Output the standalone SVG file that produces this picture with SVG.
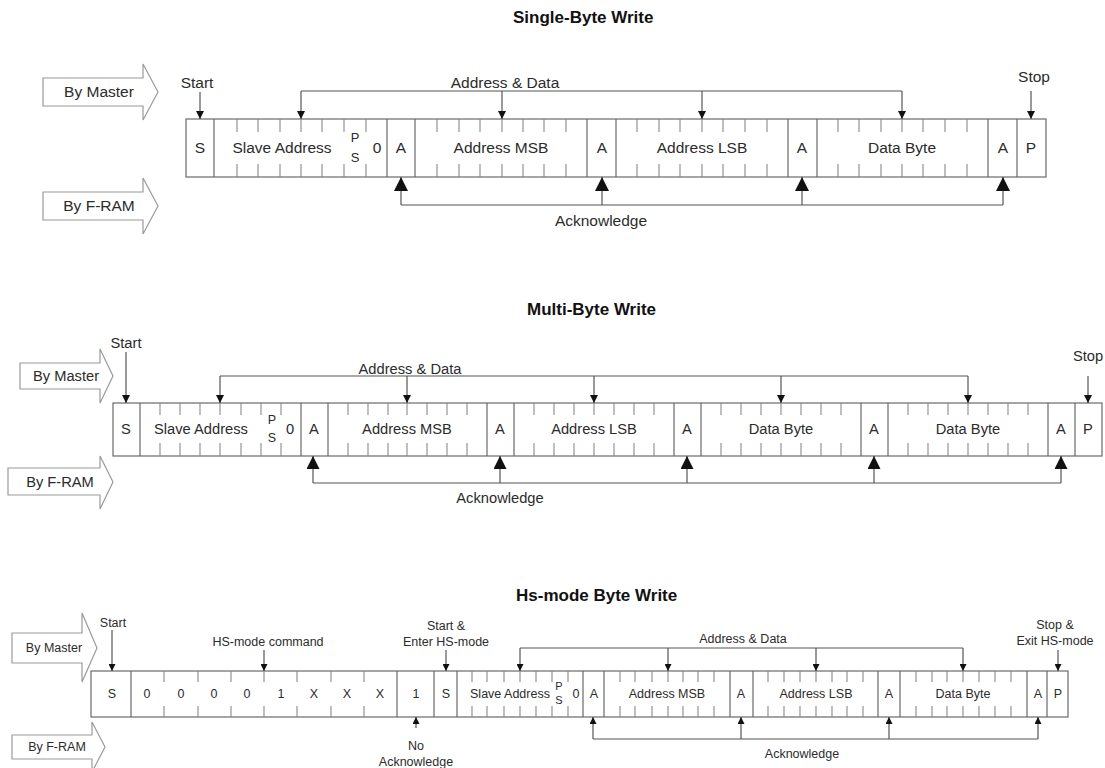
<svg xmlns="http://www.w3.org/2000/svg" width="1105" height="768" viewBox="0 0 1105 768">
<defs>
<style>
text{font-family:"Liberation Sans",Arial,sans-serif;fill:#2b2b2b;text-anchor:middle}
.t{font-weight:bold;font-size:17px;text-anchor:start;fill:#111}
.f1{font-size:15.5px}.f2{font-size:14.7px}.f3{font-size:12.5px}
.ps1{font-size:13px}.ps2{font-size:12.5px}.ps3{font-size:11px}
.big{fill:#fff;stroke:#9a9a9a;stroke-width:1.2}
.frm{fill:#fff;stroke:#6a6a6a;stroke-width:1.2}
.dv{stroke:#6a6a6a;stroke-width:1.2;fill:none}
.tk{stroke:#8a8a8a;stroke-width:1.1;fill:none}
.cn{stroke:#555;stroke-width:1.2;fill:none}
</style>
<marker id="d1" viewBox="0 0 10 10" refX="10" refY="5" markerWidth="9" markerHeight="8" markerUnits="userSpaceOnUse" orient="auto"><path d="M0,0L10,5L0,10z" fill="#111"/></marker>
<marker id="u1" viewBox="0 0 10 10" refX="10" refY="5" markerWidth="14" markerHeight="14" markerUnits="userSpaceOnUse" orient="auto"><path d="M0,0L10,5L0,10z" fill="#111"/></marker>
<marker id="d2" viewBox="0 0 10 10" refX="10" refY="5" markerWidth="8" markerHeight="8" markerUnits="userSpaceOnUse" orient="auto"><path d="M0,0L10,5L0,10z" fill="#111"/></marker>
<marker id="u2" viewBox="0 0 10 10" refX="10" refY="5" markerWidth="13" markerHeight="13" markerUnits="userSpaceOnUse" orient="auto"><path d="M0,0L10,5L0,10z" fill="#111"/></marker>
<marker id="d3" viewBox="0 0 10 10" refX="10" refY="5" markerWidth="7" markerHeight="7" markerUnits="userSpaceOnUse" orient="auto"><path d="M0,0L10,5L0,10z" fill="#111"/></marker>
<marker id="u3" viewBox="0 0 10 10" refX="10" refY="5" markerWidth="8" markerHeight="7" markerUnits="userSpaceOnUse" orient="auto"><path d="M0,0L10,5L0,10z" fill="#111"/></marker>
</defs>
<rect width="1105" height="768" fill="#fff"/>

<!-- ================= Section 1 ================= -->
<text class="t" x="513" y="23">Single-Byte Write</text>
<g id="s1-by-master"><polygon class="big" points="43,78 143,78 143,64 158,92 143,120 143,106 43,106"/><text class="f1" x="99" y="97">By Master</text></g>
<g id="s1-by-fram"><polygon class="big" points="43,192 143,192 143,178 158,206 143,234 143,220 43,220"/><text class="f1" x="99" y="211">By F-RAM</text></g>
<g id="s1-frame">
<rect class="frm" x="186" y="119" width="860" height="58"/>
<path class="dv" d="M214,119V177M387,119V177M415,119V177M587,119V177M616,119V177M788,119V177M817,119V177M988,119V177M1017,119V177"/>
<path class="tk" d="M237,119v13M237,164v13M258,119v13M258,164v13M280,119v13M280,164v13M301,119v13M301,164v13M322,119v13M322,164v13M344,119v13M344,164v13M366,119v13M366,164v13
M437,119v13M437,164v13M459,119v13M459,164v13M480,119v13M480,164v13M502,119v13M502,164v13M523,119v13M523,164v13M544,119v13M544,164v13M566,119v13M566,164v13
M637,119v13M637,164v13M659,119v13M659,164v13M680,119v13M680,164v13M702,119v13M702,164v13M723,119v13M723,164v13M745,119v13M745,164v13M767,119v13M767,164v13
M838,119v13M838,164v13M859,119v13M859,164v13M881,119v13M881,164v13M902,119v13M902,164v13M923,119v13M923,164v13M945,119v13M945,164v13M967,119v13M967,164v13"/>
<text class="f1" x="200" y="153">S</text>
<text class="f1" x="282" y="153">Slave Address</text>
<text class="ps1" x="355" y="142">P</text><text class="ps1" x="355" y="162">S</text>
<text class="f1" x="377" y="153">0</text>
<text class="f1" x="401" y="153">A</text>
<text class="f1" x="501" y="153">Address MSB</text>
<text class="f1" x="602" y="153">A</text>
<text class="f1" x="702" y="153">Address LSB</text>
<text class="f1" x="802" y="153">A</text>
<text class="f1" x="902" y="153">Data Byte</text>
<text class="f1" x="1003" y="153">A</text>
<text class="f1" x="1031" y="153">P</text>
</g>
<g id="s1-connectors">
<text class="f1" x="197" y="88">Start</text>
<line class="cn" x1="200" y1="92" x2="200" y2="119" marker-end="url(#d1)"/>
<text class="f1" x="1034" y="82">Stop</text>
<line class="cn" x1="1031" y1="91" x2="1031" y2="119" marker-end="url(#d1)"/>
<text class="f1" x="505" y="88">Address &amp; Data</text>
<path class="cn" d="M301,91H902"/>
<line class="cn" x1="301" y1="91" x2="301" y2="119" marker-end="url(#d1)"/>
<line class="cn" x1="502" y1="91" x2="502" y2="119" marker-end="url(#d1)"/>
<line class="cn" x1="702" y1="91" x2="702" y2="119" marker-end="url(#d1)"/>
<line class="cn" x1="902" y1="91" x2="902" y2="119" marker-end="url(#d1)"/>
<path class="cn" d="M401,205H1003"/>
<line class="cn" x1="401" y1="205" x2="401" y2="177" marker-end="url(#u1)"/>
<line class="cn" x1="602" y1="205" x2="602" y2="177" marker-end="url(#u1)"/>
<line class="cn" x1="802" y1="205" x2="802" y2="177" marker-end="url(#u1)"/>
<line class="cn" x1="1003" y1="205" x2="1003" y2="177" marker-end="url(#u1)"/>
<text class="f1" x="601" y="226">Acknowledge</text>
</g>

<!-- ================= Section 2 ================= -->
<text class="t" x="527" y="315">Multi-Byte Write</text>
<g id="s2-by-master"><polygon class="big" points="20,363 100,363 100,349 113,376 100,403 100,389 20,389"/><text class="f2" x="66" y="381">By Master</text></g>
<g id="s2-by-fram"><polygon class="big" points="8,468 100,468 100,456 113,482 100,509 100,495 8,495"/><text class="f2" x="60" y="487">By F-RAM</text></g>
<g id="s2-frame">
<rect class="frm" x="113" y="403" width="989" height="53"/>
<path class="dv" d="M140,403V456M301,403V456M328,403V456M487,403V456M514,403V456M674,403V456M701,403V456M861,403V456M888,403V456M1048,403V456M1075,403V456"/>
<path class="tk" d="M160,403v12M160,443v13M180,403v12M180,443v13M200,403v12M200,443v13M220,403v12M220,443v13M241,403v12M241,443v13M261,403v12M261,443v13M281,403v12M281,443v13
M348,403v12M348,443v13M368,403v12M368,443v13M388,403v12M388,443v13M407,403v12M407,443v13M427,403v12M427,443v13M447,403v12M447,443v13M467,403v12M467,443v13
M534,403v12M534,443v13M554,403v12M554,443v13M574,403v12M574,443v13M594,403v12M594,443v13M614,403v12M614,443v13M634,403v12M634,443v13M654,403v12M654,443v13
M721,403v12M721,443v13M741,403v12M741,443v13M761,403v12M761,443v13M781,403v12M781,443v13M801,403v12M801,443v13M821,403v12M821,443v13M841,403v12M841,443v13
M908,403v12M908,443v13M928,403v12M928,443v13M948,403v12M948,443v13M968,403v12M968,443v13M988,403v12M988,443v13M1008,403v12M1008,443v13M1028,403v12M1028,443v13"/>
<text class="f2" x="126" y="434">S</text>
<text class="f2" x="201" y="434">Slave Address</text>
<text class="ps2" x="272" y="424">P</text><text class="ps2" x="272" y="442">S</text>
<text class="f2" x="290" y="434">0</text>
<text class="f2" x="314" y="434">A</text>
<text class="f2" x="407" y="434">Address MSB</text>
<text class="f2" x="500" y="434">A</text>
<text class="f2" x="594" y="434">Address LSB</text>
<text class="f2" x="687" y="434">A</text>
<text class="f2" x="781" y="434">Data Byte</text>
<text class="f2" x="874" y="434">A</text>
<text class="f2" x="968" y="434">Data Byte</text>
<text class="f2" x="1061" y="434">A</text>
<text class="f2" x="1088" y="434">P</text>
</g>
<g id="s2-connectors">
<text class="f2" x="126" y="348">Start</text>
<line class="cn" x1="126" y1="352" x2="126" y2="403" marker-end="url(#d2)"/>
<text class="f2" x="1088" y="361">Stop</text>
<line class="cn" x1="1088" y1="376" x2="1088" y2="403" marker-end="url(#d2)"/>
<text class="f2" x="410" y="374">Address &amp; Data</text>
<path class="cn" d="M220,376H968"/>
<line class="cn" x1="220" y1="376" x2="220" y2="403" marker-end="url(#d2)"/>
<line class="cn" x1="407" y1="376" x2="407" y2="403" marker-end="url(#d2)"/>
<line class="cn" x1="594" y1="376" x2="594" y2="403" marker-end="url(#d2)"/>
<line class="cn" x1="781" y1="376" x2="781" y2="403" marker-end="url(#d2)"/>
<line class="cn" x1="968" y1="376" x2="968" y2="403" marker-end="url(#d2)"/>
<path class="cn" d="M313,483H1061"/>
<line class="cn" x1="313" y1="483" x2="313" y2="456" marker-end="url(#u2)"/>
<line class="cn" x1="500" y1="483" x2="500" y2="456" marker-end="url(#u2)"/>
<line class="cn" x1="687" y1="483" x2="687" y2="456" marker-end="url(#u2)"/>
<line class="cn" x1="874" y1="483" x2="874" y2="456" marker-end="url(#u2)"/>
<line class="cn" x1="1061" y1="483" x2="1061" y2="456" marker-end="url(#u2)"/>
<text class="f2" x="500" y="503">Acknowledge</text>
</g>

<!-- ================= Section 3 ================= -->
<text class="t" x="516" y="601">Hs-mode Byte Write</text>
<g id="s3-by-master"><polygon class="big" points="12,633 82,633 82,613 97,648 82,682 82,663 12,663"/><text class="f3" x="54" y="652">By Master</text></g>
<g id="s3-by-fram"><polygon class="big" points="12,735 92,735 92,722 105,747 92,772 92,759 12,759"/><text class="f3" x="57" y="751">By F-RAM</text></g>
<g id="s3-frame">
<rect class="frm" x="91" y="671" width="977" height="46"/>
<path class="dv" d="M131,671V717M397,671V717M434,671V717M457,671V717M583,671V717M604,671V717M730,671V717M753,671V717M878,671V717M900,671V717M1027,671V717M1047,671V717"/>
<path class="tk" d="M164,671v11M164,706v11M198,671v11M198,706v11M231,671v11M231,706v11M264,671v11M264,706v11M297,671v11M297,706v11M331,671v11M331,706v11M364,671v11M364,706v11
M472,671v11M472,706v11M487,671v11M487,706v11M504,671v11M504,706v11M520,671v11M520,706v11M536,671v11M536,706v11M552,671v11M552,706v11M568,671v11M568,706v11
M620,671v11M620,706v11M635,671v11M635,706v11M652,671v11M652,706v11M668,671v11M668,706v11M683,671v11M683,706v11M698,671v11M698,706v11M714,671v11M714,706v11
M768,671v11M768,706v11M784,671v11M784,706v11M800,671v11M800,706v11M816,671v11M816,706v11M832,671v11M832,706v11M847,671v11M847,706v11M863,671v11M863,706v11
M916,671v11M916,706v11M932,671v11M932,706v11M947,671v11M947,706v11M963,671v11M963,706v11M979,671v11M979,706v11M995,671v11M995,706v11M1011,671v11M1011,706v11"/>
<text class="f3" x="112" y="698">S</text>
<text class="f3" x="147" y="698">0</text>
<text class="f3" x="181" y="698">0</text>
<text class="f3" x="214" y="698">0</text>
<text class="f3" x="247" y="698">0</text>
<text class="f3" x="281" y="698">1</text>
<text class="f3" x="314" y="698">X</text>
<text class="f3" x="347" y="698">X</text>
<text class="f3" x="380" y="698">X</text>
<text class="f3" x="416" y="698">1</text>
<text class="f3" x="446" y="698">S</text>
<text class="f3" x="510" y="698">Slave Address</text>
<text class="ps3" x="559" y="690">P</text><text class="ps3" x="559" y="704">S</text>
<text class="f3" x="576" y="698">0</text>
<text class="f3" x="594" y="698">A</text>
<text class="f3" x="667" y="698">Address MSB</text>
<text class="f3" x="741" y="698">A</text>
<text class="f3" x="816" y="698">Address LSB</text>
<text class="f3" x="889" y="698">A</text>
<text class="f3" x="963" y="698">Data Byte</text>
<text class="f3" x="1038" y="698">A</text>
<text class="f3" x="1058" y="698">P</text>
</g>
<g id="s3-connectors">
<text class="f3" x="113" y="627">Start</text>
<line class="cn" x1="112" y1="630" x2="112" y2="671" marker-end="url(#d3)"/>
<text class="f3" x="268" y="646">HS-mode command</text>
<line class="cn" x1="264" y1="650" x2="264" y2="671" marker-end="url(#d3)"/>
<text class="f3" x="446" y="630">Start &amp;</text>
<text class="f3" x="446" y="646">Enter HS-mode</text>
<line class="cn" x1="446" y1="650" x2="446" y2="671" marker-end="url(#d3)"/>
<line class="cn" x1="416" y1="728" x2="416" y2="717" marker-end="url(#u3)"/>
<text class="f3" x="416" y="750">No</text>
<text class="f3" x="416" y="766">Acknowledge</text>
<text class="f3" x="743" y="643">Address &amp; Data</text>
<path class="cn" d="M520,648H963"/>
<line class="cn" x1="520" y1="648" x2="520" y2="671" marker-end="url(#d3)"/>
<line class="cn" x1="668" y1="648" x2="668" y2="671" marker-end="url(#d3)"/>
<line class="cn" x1="816" y1="648" x2="816" y2="671" marker-end="url(#d3)"/>
<line class="cn" x1="963" y1="648" x2="963" y2="671" marker-end="url(#d3)"/>
<text class="f3" x="1055" y="629">Stop &amp;</text>
<text class="f3" x="1055" y="645">Exit HS-mode</text>
<line class="cn" x1="1058" y1="650" x2="1058" y2="671" marker-end="url(#d3)"/>
<path class="cn" d="M593,739H1038"/>
<line class="cn" x1="593" y1="739" x2="593" y2="717" marker-end="url(#u3)"/>
<line class="cn" x1="741" y1="739" x2="741" y2="717" marker-end="url(#u3)"/>
<line class="cn" x1="889" y1="739" x2="889" y2="717" marker-end="url(#u3)"/>
<line class="cn" x1="1038" y1="739" x2="1038" y2="717" marker-end="url(#u3)"/>
<text class="f3" x="802" y="758">Acknowledge</text>
</g>
</svg>
